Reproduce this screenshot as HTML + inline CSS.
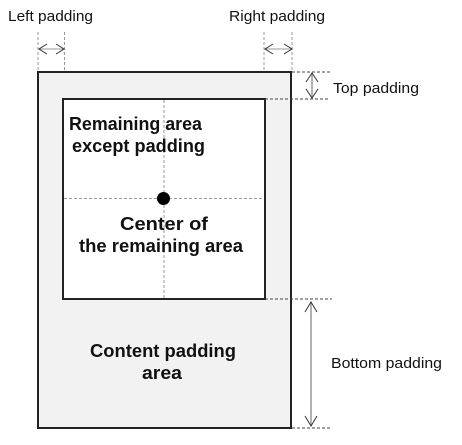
<!DOCTYPE html>
<html><head><style>
html,body{margin:0;padding:0;background:#fff;}
svg{display:block;}
text{font-family:"Liberation Sans","DejaVu Sans",sans-serif;}
.l{font-size:15px;fill:#111;}
.b{font-size:18px;font-weight:bold;fill:#111;}
</style></head><body>
<svg width="462" height="445" viewBox="0 0 462 445" xmlns="http://www.w3.org/2000/svg">
<rect x="38" y="72" width="253" height="356" fill="#f2f2f2" stroke="#222" stroke-width="2"/>
<rect x="63" y="99" width="202" height="200" fill="#fff" stroke="#222" stroke-width="2"/>
<g stroke="#999" stroke-width="1" stroke-dasharray="3,2" fill="none">
<line x1="164" y1="100" x2="164" y2="298"/>
<line x1="64" y1="198.5" x2="264" y2="198.5"/>
<line x1="38" y1="32" x2="38" y2="71"/>
<line x1="64.5" y1="32" x2="64.5" y2="71"/>
<line x1="264" y1="32" x2="264" y2="71"/>
<line x1="292" y1="32" x2="292" y2="71"/>
</g>
<g stroke="#444" stroke-width="1" stroke-dasharray="3,2" fill="none">
<line x1="292" y1="72" x2="330" y2="72"/>
<line x1="265" y1="99" x2="330" y2="99"/>
<line x1="265" y1="299" x2="332" y2="299"/>
<line x1="292" y1="428" x2="332" y2="428"/>
</g>
<g stroke="#333" stroke-width="1" fill="none">
<line x1="39" y1="49" x2="64" y2="49" stroke="#999"/>
<polyline points="47,44 39,49 47,54"/><polyline points="56,44 64,49 56,54"/>
<line x1="265" y1="49" x2="292" y2="49" stroke="#999"/>
<polyline points="273,44 265,49 273,54"/><polyline points="284,44 292,49 284,54"/>
<line x1="312" y1="73" x2="312" y2="98" stroke="#999" stroke-width="1.5"/>
<polyline points="306,82 312,73 318,82"/><polyline points="306,89 312,98 318,89"/>
<line x1="311" y1="302" x2="311" y2="426" stroke="#999" stroke-width="1.5"/>
<polyline points="305,312 311,302 317,312"/><polyline points="305,416 311,426 317,416"/>
</g>
<circle cx="163.5" cy="198.5" r="6.5" fill="#000"/>
<text class="l" x="8" y="21" textLength="85" lengthAdjust="spacingAndGlyphs">Left padding</text>
<text class="l" x="229" y="21" textLength="96" lengthAdjust="spacingAndGlyphs">Right padding</text>
<text class="l" x="333" y="93" textLength="86" lengthAdjust="spacingAndGlyphs">Top padding</text>
<text class="l" x="331" y="368" textLength="111" lengthAdjust="spacingAndGlyphs">Bottom padding</text>
<text class="b" x="69" y="130" textLength="133" lengthAdjust="spacingAndGlyphs">Remaining area</text>
<text class="b" x="72" y="152" textLength="133" lengthAdjust="spacingAndGlyphs">except padding</text>
<text class="b" x="120" y="230" textLength="88" lengthAdjust="spacingAndGlyphs">Center of</text>
<text class="b" x="79" y="252" textLength="164" lengthAdjust="spacingAndGlyphs">the remaining area</text>
<text class="b" x="90" y="357" textLength="146" lengthAdjust="spacingAndGlyphs">Content padding</text>
<text class="b" x="142" y="379" textLength="40" lengthAdjust="spacingAndGlyphs">area</text>
</svg>
</body></html>
